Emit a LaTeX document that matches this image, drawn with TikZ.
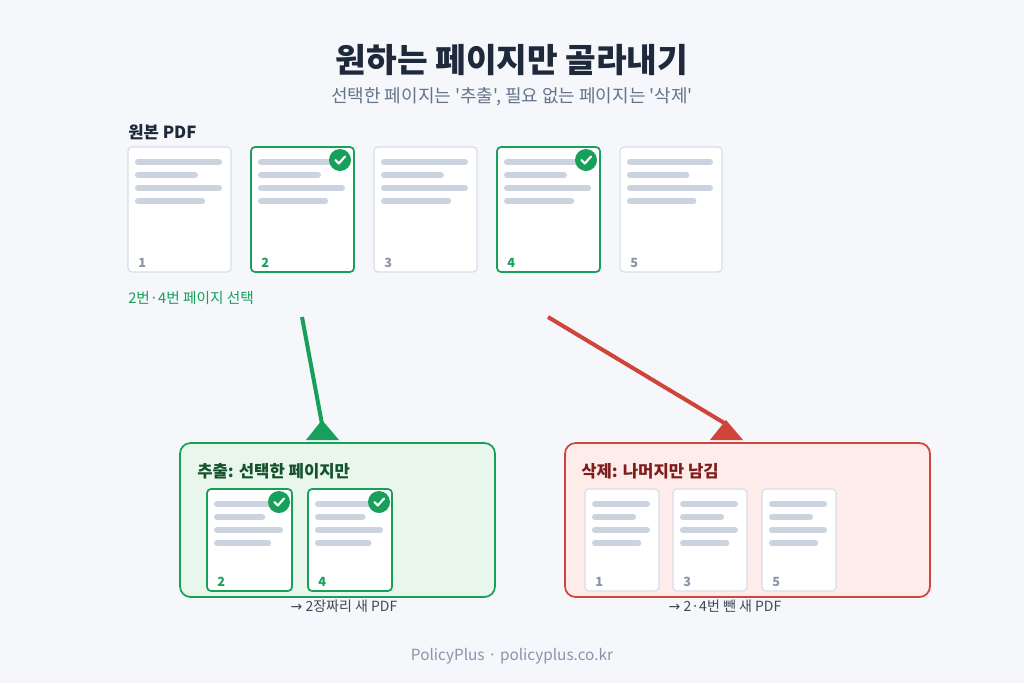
\documentclass[tikz,border=0pt]{standalone}
\usepackage{fontspec}
\setmainfont{Noto Sans CJK KR}
\newfontfamily\plainf{Noto Sans CJK KR}[Ligatures=TeXOff]
\newfontfamily\dv{DejaVu Sans}
\definecolor{bg}{HTML}{F5F7FB}
\definecolor{navy}{HTML}{1E293B}
\definecolor{sub}{HTML}{64748B}
\definecolor{grn}{HTML}{16A05A}
\definecolor{grnfill}{HTML}{E8F6EC}
\definecolor{dgrn}{HTML}{14532D}
\definecolor{red}{HTML}{D0443A}
\definecolor{redfill}{HTML}{FDECEA}
\definecolor{dred}{HTML}{7F1D1D}
\definecolor{pbord}{HTML}{D8DEE8}
\definecolor{bar}{HTML}{CBD3DF}
\definecolor{num}{HTML}{8A94A6}
\tikzset{
 page/.style={draw=pbord,fill=white,rounded corners=3pt,line width=0.9pt},
 selpage/.style={draw=grn,fill=white,rounded corners=3pt,line width=1.3pt},
 barl/.style={bar,line width=4.5pt,line cap=round},
 chk/.style={circle,fill=grn,minimum size=16.5pt,inner sep=0pt},
 box/.style={rounded corners=8pt,line width=1.3pt},
 arr/.style={line width=3pt},
}
\newcommand{\pg}[8]{% name, x1,y1,x2,y2, number, style, numcolor
 \node[#7,minimum width={(#4-#2)*0.75pt},minimum height={(#5-#3)*0.75pt},inner sep=0pt] (#1) at ({(#2+#4)/2},{(#3+#5)/2}) {};
 \draw[barl] (#2+10,#3+15) -- (#4-12,#3+15);
 \draw[barl] (#2+10,#3+28) -- ({#2+0.65*(#4-#2)},#3+28);
 \draw[barl] (#2+10,#3+41) -- (#4-12,#3+41);
 \draw[barl] (#2+10,#3+54) -- ({#2+0.72*(#4-#2)},#3+54);
 \node[anchor=base west,inner sep=0pt,font=\fontsize{9.5}{10}\selectfont\bfseries,text=#8] at (#2+10,#5-5) {#6};}
\newcommand{\ck}[2]{\node[chk] at (#1,#2) {}; \draw[white,line width=1.6pt,line cap=round,line join=round] (#1-4.5,#2) -- (#1-1.2,#2+3.5) -- (#1+5,#2-3.5);}
\begin{document}
\begin{tikzpicture}[x=0.75pt,y=-0.75pt]
\fill[bg] (0,0) rectangle (1024,683);
\node[font=\fontsize{25}{28}\selectfont\bfseries,text=navy] (title) at (512,60) {원하는 페이지만 골라내기};
\node[font=\plainf\fontsize{13.5}{15}\selectfont,text=sub] (subt) at (512,97) {선택한 페이지는 '추출', 필요 없는 페이지는 '삭제'};
\node[anchor=west,font=\fontsize{12.5}{14}\selectfont\bfseries,text=navy,inner sep=0pt] (orig) at (128,132) {원본 PDF};
\pg{p1}{128}{147}{231}{272}{1}{page}{num}
\pg{p2}{251}{147}{354}{272}{2}{selpage}{grn}
\pg{p3}{374}{147}{477}{272}{3}{page}{num}
\pg{p4}{497}{147}{600}{272}{4}{selpage}{grn}
\pg{p5}{620}{147}{722}{272}{5}{page}{num}
\ck{340}{160}\ck{586}{160}
\node[anchor=west,inner sep=0pt,font=\fontsize{11}{13}\selectfont,text=grn] (sel) at (128,298) {2번·4번 페이지 선택};
% boxes
\node[box,draw=grn,fill=grnfill,minimum width=236.25pt,minimum height=115.5pt,inner sep=0pt] (ex) at (337.5,520) {};
\node[box,draw=red,fill=redfill,minimum width=273.75pt,minimum height=115.5pt,inner sep=0pt] (de) at (747.5,520) {};
\node[anchor=west,inner sep=0pt,font=\fontsize{12.5}{14}\selectfont\bfseries,text=dgrn] (ext) at (197,471) {추출: 선택한 페이지만};
\node[anchor=west,inner sep=0pt,font=\fontsize{12.5}{14}\selectfont\bfseries,text=dred] (det) at (581,471) {삭제: 나머지만 남김};
\pg{e2}{207}{489}{292}{591}{2}{selpage}{grn}
\pg{e4}{308}{489}{392}{591}{4}{selpage}{grn}
\ck{279}{502}\ck{379}{502}
\pg{d1}{585}{489}{659}{591}{1}{page}{num}
\pg{d3}{673}{489}{747}{591}{3}{page}{num}
\pg{d5}{762}{489}{836}{591}{5}{page}{num}
\node[font=\fontsize{10.5}{12}\selectfont,text=navy!85] (exc) at (344,606) {{\dv →} 2장짜리 새 PDF};
\node[font=\fontsize{10.5}{12}\selectfont,text=navy!85] (dec) at (725,606) {{\dv →} 2·4번 뺀 새 PDF};
% arrows
\coordinate (ga) at (302,317); \coordinate (gb) at (322,424);
\coordinate (ra) at (548,317); \coordinate (rb) at (726,424);
\draw[arr,grn] (ga) -- (gb);
\fill[grn] (gb)++(0,-4) -- ++(-16,20) -- ++(33,0) -- cycle;
\draw[arr,red] (ra) -- (rb);
\fill[red] (rb)++(0,-4) -- ++(-16,20) -- ++(33,0) -- cycle;
\node[font=\fontsize{11.5}{13}\selectfont,text=num] (foot) at (512,656) {PolicyPlus · policyplus.co.kr};
\end{tikzpicture}
\end{document}
